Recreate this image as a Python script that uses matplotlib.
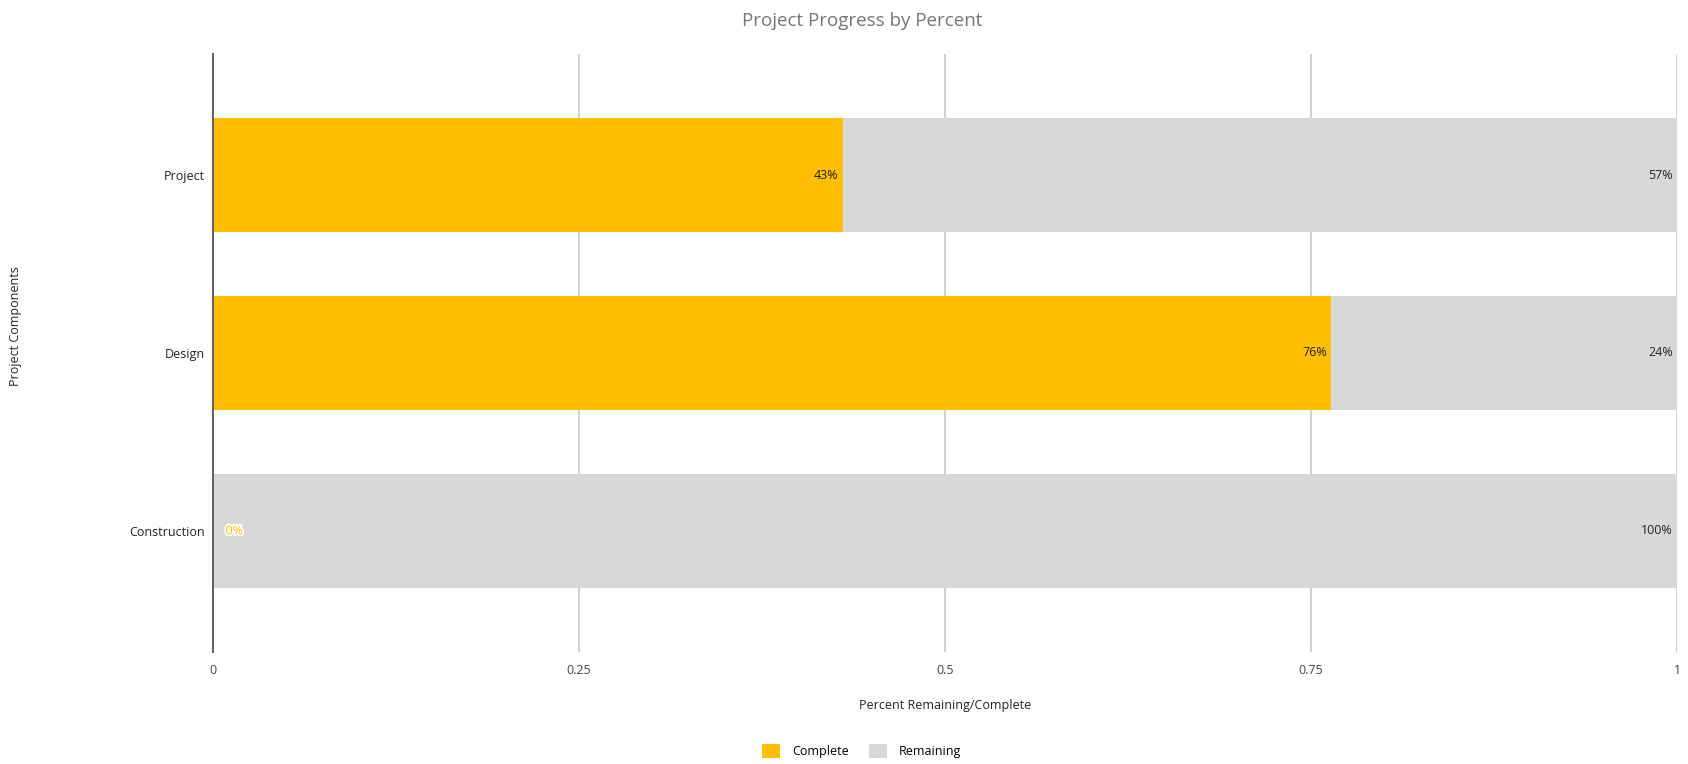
import matplotlib.pyplot as plt
from matplotlib.patches import Patch
import matplotlib.patheffects as pe

plt.rcParams['font.family'] = ['Open Sans', 'DejaVu Sans']

components = ['Project', 'Design', 'Construction']
complete = [0.43, 0.764, 0.0]
remaining = [0.57, 0.236, 1.0]
complete_labels = ['43%', '76%', '0%']
remaining_labels = ['57%', '24%', '100%']
x_ticks = [0, 0.25, 0.5, 0.75, 1]
x_ticklabels = ['0', '0.25', '0.5', '0.75', '1']

orange = '#FFBE00'
grey = '#D8D8D8'

W, H = 1688, 764
fig = plt.figure(figsize=(W / 100, H / 100), dpi=100)
ax = fig.add_axes([213 / W, 1 - 652 / H, (1677 - 213) / W, (652 - 54) / H])

pos = list(range(len(components)))
ax.barh(pos, complete, height=0.645, color=orange, zorder=3)
ax.barh(pos, remaining, left=complete, height=0.645, color=grey, zorder=3)

ax.set_xlim(0, 1)
ax.set_ylim(2.68, -0.68)
ax.set_yticks(pos)
ax.set_yticklabels(components, fontsize=9, color='#222222')
ax.set_xticks(x_ticks)
ax.set_xticklabels(x_ticklabels, fontsize=9, color='#444444')
ax.tick_params(axis='both', length=0)
ax.tick_params(axis='y', pad=6)
ax.tick_params(axis='x', pad=9)

ax.grid(axis='x', color='#d0d0d0', linewidth=1.4, zorder=0)
ax.grid(axis='y', visible=False)
for s in ['top', 'right', 'bottom']:
    ax.spines[s].set_visible(False)
ax.spines['left'].set_color('#606060')
ax.spines['left'].set_linewidth(1.4)
ax.spines['left'].set_zorder(4)

for i in pos:
    if complete[i] > 0:
        ax.annotate(complete_labels[i], (complete[i], i), xytext=(-3, 0),
                    textcoords='offset points', ha='right', va='center',
                    fontsize=9, color='#222222', zorder=5)
    else:
        ax.annotate(complete_labels[i], (0, i), xytext=(9, 0),
                    textcoords='offset points', ha='left', va='center',
                    fontsize=9, color=orange, zorder=5,
                    path_effects=[pe.withStroke(linewidth=2.5, foreground='white')])
    ax.annotate(remaining_labels[i], (complete[i] + remaining[i], i), xytext=(-3, 0),
                textcoords='offset points', ha='right', va='center',
                fontsize=9, color='#222222', zorder=5)

fig.text(862 / W, 1 - 21 / H, 'Project Progress by Percent', ha='center', va='center',
         fontsize=13.5, color='#757575')
fig.text(945 / W, 1 - 706 / H, 'Percent Remaining/Complete', ha='center', va='center',
         fontsize=9, color='#222222')
fig.text(16 / W, 1 - 326 / H, 'Project Components', ha='center', va='center',
         rotation=90, fontsize=9, color='#222222')

legend_elements = [Patch(facecolor=orange, label='Complete'),
                   Patch(facecolor=grey, label='Remaining')]
fig.legend(handles=legend_elements, loc='center', bbox_to_anchor=(862 / W, 1 - 751 / H),
           ncol=2, frameon=False, fontsize=9, handlelength=1.4, handleheight=1.4,
           columnspacing=1.6, handletextpad=1.0)

fig.savefig('out.png', dpi=100)
